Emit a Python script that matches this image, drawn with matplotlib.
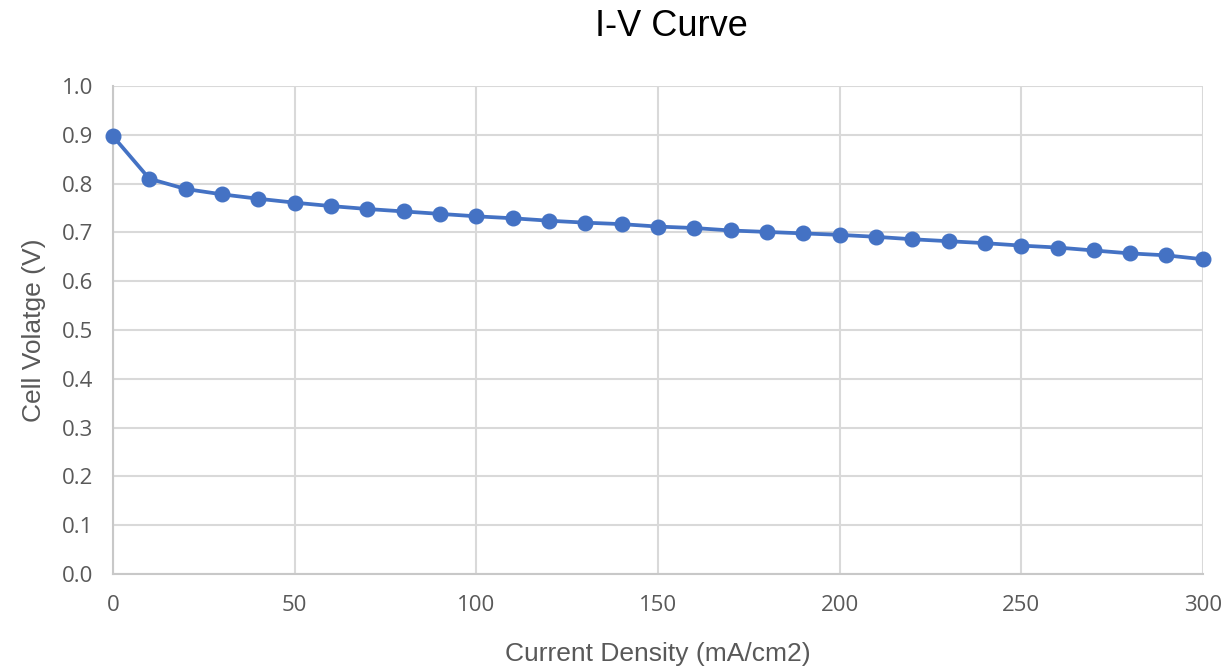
import numpy as np
import matplotlib
matplotlib.use("Agg")
import matplotlib.pyplot as plt

current_density = np.arange(0, 301, 10)
cell_voltage = [0.897, 0.810, 0.789, 0.778, 0.769, 0.761, 0.754, 0.748, 0.743, 0.738,
                0.733, 0.729, 0.724, 0.720, 0.717, 0.712, 0.709, 0.704, 0.701, 0.698,
                0.695, 0.691, 0.686, 0.682, 0.678, 0.673, 0.669, 0.663, 0.657, 0.653,
                0.645]

fig = plt.figure(figsize=(12.3, 6.7), dpi=100)
ax = fig.add_axes([0.0919, 0.1433, 0.886, 0.7283])

ax.plot(current_density, cell_voltage, color='#4472C4', linewidth=2.7,
        marker='o', markersize=10.5, zorder=3, clip_on=False)

ax.set_xlim(0, 300)
ax.set_ylim(0, 1.0)
ax.set_xticks(np.arange(0, 301, 50))
ax.set_yticks(np.arange(0, 1.01, 0.1))
ax.set_yticklabels([f"{v:.1f}" for v in np.arange(0, 1.01, 0.1)])
ax.grid(True, color='#d9d9d9', linewidth=1.5)
ax.set_axisbelow(True)
for s in ['top', 'right']:
    ax.spines[s].set_visible(False)
for s in ['left', 'bottom']:
    ax.spines[s].set_color('#c8c8c8')
    ax.spines[s].set_linewidth(1.5)
ax.tick_params(length=0, labelsize=16, labelcolor='#595959')
ax.tick_params(axis='y', pad=14)
ax.tick_params(axis='x', pad=15)
for lbl in ax.get_xticklabels() + ax.get_yticklabels():
    lbl.set_family('Open Sans')

ax.set_title('I-V Curve', fontsize=26, family='Liberation Sans', pad=36, x=0.512)
ax.set_xlabel('Current Density (mA/cm2)', fontsize=19, color='#595959',
              family='Liberation Sans', labelpad=19)
ax.set_ylabel('Cell Volatge (V)', fontsize=19, color='#595959',
              family='Liberation Sans', labelpad=12)

fig.savefig('out.png', dpi=100)
